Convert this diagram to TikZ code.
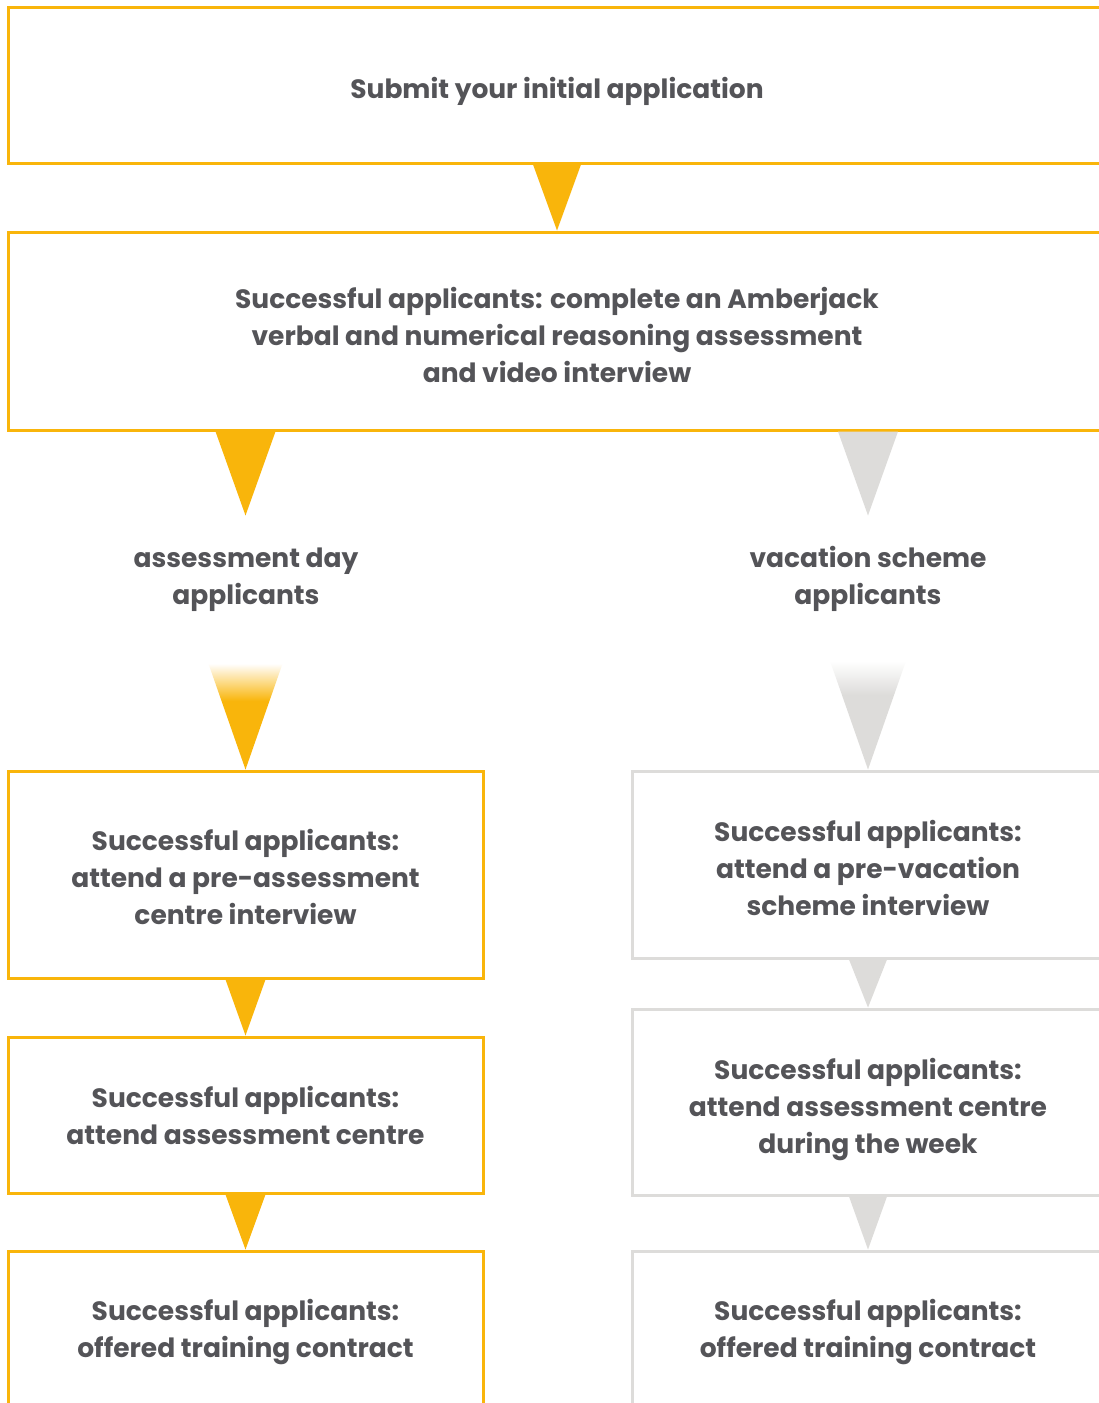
\documentclass[tikz,border=0pt]{standalone}
\usepackage{fontspec}
\setmainfont{Poppins}
\usetikzlibrary{calc}
\definecolor{yel}{HTML}{F9B50B}
\definecolor{gry}{HTML}{DDDCDA}
\definecolor{txt}{HTML}{545458}
\pgfdeclareverticalshading{yfade}{100bp}{color(0bp)=(yel); color(49bp)=(yel); color(62bp)=(white); color(100bp)=(white)}
\pgfdeclareverticalshading{gfade}{100bp}{color(0bp)=(gry); color(51bp)=(gry); color(63bp)=(white); color(100bp)=(white)}
\newcommand{\shtxt}[2]{\raisebox{-#1}[\height][\depth]{\begin{tabular}{@{}c@{}}#2\end{tabular}}}
\tikzset{
  box/.style={draw=#1, line width=3pt, fill=white, inner sep=0pt, align=center,
    font=\fontsize{26.5}{37}\selectfont\bfseries, text=txt},
  lab/.style={inner sep=0pt, align=center, font=\fontsize{26.5}{37}\selectfont\bfseries, text=txt},
}
\begin{document}
\begin{tikzpicture}[x=1pt,y=-1pt]
\clip (0,0) rectangle (1099,1403);
\fill[white] (0,0) rectangle (1099,1403);
% boxes
\node[box=yel, minimum width=1098pt, minimum height=156pt] (b1) at (557,85) {\shtxt{6pt}{Submit your initial application}};
\node[box=yel, minimum width=1098pt, minimum height=198pt] (b2) at (557,331) {\shtxt{7pt}{Successful applicants: complete an Amberjack\\verbal and numerical reasoning assessment\\and video interview}};
\node[lab] (la) at (246,575) {\shtxt{4pt}{assessment day\\applicants}};
\node[lab] (ra) at (868,575) {\shtxt{3.5pt}{vacation scheme\\applicants}};
\node[box=yel, minimum width=475pt, minimum height=207pt] (l3) at (245.5,874.5) {\shtxt{5.5pt}{Successful applicants:\\attend a pre-assessment\\centre interview}};
\node[box=gry, minimum width=472pt, minimum height=187pt] (r3) at (868,864.5) {\shtxt{6.5pt}{Successful applicants:\\attend a pre-vacation\\scheme interview}};
\node[box=yel, minimum width=475pt, minimum height=156pt] (l4) at (245.5,1115) {\shtxt{3.5pt}{Successful applicants:\\attend assessment centre}};
\node[box=gry, minimum width=472pt, minimum height=186pt] (r4) at (868,1102) {\shtxt{7pt}{Successful applicants:\\attend assessment centre\\during the week}};
\node[box=yel, minimum width=475pt, minimum height=157pt] (l5) at (245.5,1329.5) {\shtxt{2pt}{Successful applicants:\\offered training contract}};
\node[box=gry, minimum width=472pt, minimum height=157pt] (r5) at (868,1329.5) {\shtxt{2pt}{Successful applicants:\\offered training contract}};
% arrows (triangles)
\fill[yel] (b1.south) ++(-24,0) -- ++(48,0) -- (b2.north) -- cycle;
\coordinate (lt) at (b2.south -| l3.north);
\coordinate (rt) at (b2.south -| r3.north);
\fill[yel] (lt) ++(-30,0) -- ++(60,0) -- ($(lt)+(0,84)$) -- cycle;
\fill[gry] (rt) ++(-30,0) -- ++(60,0) -- ($(rt)+(0,84)$) -- cycle;
\shade[shading=yfade] ($(l3.north)+(-50,-143)$) -- ($(l3.north)+(50,-143)$) -- (l3.north) -- cycle;
\shade[shading=gfade] ($(r3.north)+(-50,-143)$) -- ($(r3.north)+(50,-143)$) -- (r3.north) -- cycle;
\fill[yel] (l3.south) ++(-20,0) -- ++(40,0) -- (l4.north) -- cycle;
\fill[gry] (r3.south) ++(-19,0) -- ++(38,0) -- (r4.north) -- cycle;
\fill[yel] (l4.south) ++(-20,0) -- ++(40,0) -- (l5.north) -- cycle;
\fill[gry] (r4.south) ++(-19,0) -- ++(38,0) -- (r5.north) -- cycle;
\end{tikzpicture}
\end{document}
